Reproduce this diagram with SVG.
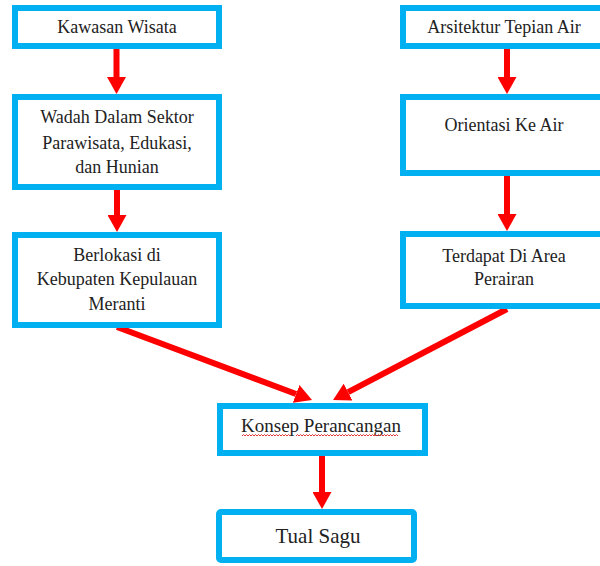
<svg xmlns="http://www.w3.org/2000/svg" width="600" height="566" viewBox="0 0 600 566">
  <style>
    .box { fill: #ffffff; stroke: #00b0f0; stroke-width: 6; }
    .lbl { font-family: 'Liberation Serif', 'DejaVu Serif', serif; font-size: 18px; fill: #222222; text-anchor: middle; }
    .lbl-md { font-size: 19px; }
    .lbl-lg { font-size: 21px; }
    .link { stroke: #ff0000; stroke-width: 6; fill: none; marker-end: url(#head); }
    .squiggle { stroke: #e02020; stroke-width: 0.9; fill: none; }
  </style>
  <defs>
    <marker id="head" viewBox="0 0 17 19" refX="0" refY="9.5" markerWidth="17" markerHeight="19" orient="auto" markerUnits="userSpaceOnUse">
      <path d="M0,0 L17,9.5 L0,19 Z" fill="#ff0000"/>
    </marker>
  </defs>
  <rect width="600" height="566" fill="#ffffff"/>

  <!-- connectors -->
  <g id="connectors">
    <line class="link" x1="116.5" y1="49" x2="116.5" y2="77"/>
    <line class="link" x1="117" y1="190" x2="117" y2="215"/>
    <line class="link" x1="507" y1="49" x2="507" y2="77"/>
    <line class="link" x1="507" y1="176" x2="507" y2="214"/>
    <line class="link" x1="117" y1="327" x2="296.1" y2="394"/>
    <line class="link" x1="507" y1="309" x2="348.1" y2="392.1"/>
    <line class="link" x1="322" y1="456" x2="322" y2="492"/>
  </g>

  <!-- left column -->
  <g id="kawasan-wisata">
    <rect class="box" x="15" y="8" width="204" height="38"/>
    <text class="lbl" x="117" y="33">Kawasan Wisata</text>
  </g>
  <g id="wadah">
    <rect class="box" x="15" y="97" width="204" height="90"/>
    <text class="lbl" x="117" y="123">Wadah Dalam Sektor</text>
    <text class="lbl" x="117" y="149">Parawisata, Edukasi,</text>
    <text class="lbl" x="117" y="173">dan Hunian</text>
  </g>
  <g id="berlokasi">
    <rect class="box" x="15" y="235" width="204" height="90"/>
    <text class="lbl" x="117" y="261">Berlokasi di</text>
    <text class="lbl" x="117" y="285">Kebupaten Kepulauan</text>
    <text class="lbl" x="117" y="310">Meranti</text>
  </g>

  <!-- right column -->
  <g id="arsitektur-tepian-air">
    <rect class="box" x="403" y="8" width="208" height="38"/>
    <text class="lbl" x="504" y="33">Arsitektur Tepian Air</text>
  </g>
  <g id="orientasi">
    <rect class="box" x="403" y="97" width="208" height="76"/>
    <text class="lbl" x="504" y="131">Orientasi Ke Air</text>
  </g>
  <g id="terdapat">
    <rect class="box" x="403" y="234" width="208" height="72"/>
    <text class="lbl" x="504" y="262">Terdapat Di Area</text>
    <text class="lbl" x="504" y="285">Perairan</text>
  </g>

  <!-- bottom -->
  <g id="konsep-perancangan">
    <rect class="box" x="220" y="406" width="205" height="47"/>
    <text class="lbl lbl-md" x="321" y="432">Konsep Perancangan</text>
    <!-- spell-check squiggles under both words -->
    <path class="squiggle" d="M242,436 l1.5,-1.5 l1.5,1.5 l1.5,-1.5 l1.5,1.5 l1.5,-1.5 l1.5,1.5 l1.5,-1.5 l1.5,1.5 l1.5,-1.5 l1.5,1.5 l1.5,-1.5 l1.5,1.5 l1.5,-1.5 l1.5,1.5 l1.5,-1.5 l1.5,1.5 l1.5,-1.5 l1.5,1.5 l1.5,-1.5 l1.5,1.5 l1.5,-1.5 l1.5,1.5 l1.5,-1.5 l1.5,1.5 l1.5,-1.5 l1.5,1.5 l1.5,-1.5 l1.5,1.5 l1.5,-1.5 l1.5,1.5 l1.5,-1.5 l1.5,1.5"/>
    <path class="squiggle" d="M296,436 l1.5,-1.5 l1.5,1.5 l1.5,-1.5 l1.5,1.5 l1.5,-1.5 l1.5,1.5 l1.5,-1.5 l1.5,1.5 l1.5,-1.5 l1.5,1.5 l1.5,-1.5 l1.5,1.5 l1.5,-1.5 l1.5,1.5 l1.5,-1.5 l1.5,1.5 l1.5,-1.5 l1.5,1.5 l1.5,-1.5 l1.5,1.5 l1.5,-1.5 l1.5,1.5 l1.5,-1.5 l1.5,1.5 l1.5,-1.5 l1.5,1.5 l1.5,-1.5 l1.5,1.5 l1.5,-1.5 l1.5,1.5 l1.5,-1.5 l1.5,1.5 l1.5,-1.5 l1.5,1.5 l1.5,-1.5 l1.5,1.5 l1.5,-1.5 l1.5,1.5 l1.5,-1.5 l1.5,1.5 l1.5,-1.5 l1.5,1.5 l1.5,-1.5 l1.5,1.5 l1.5,-1.5 l1.5,1.5 l1.5,-1.5 l1.5,1.5 l1.5,-1.5 l1.5,1.5 l1.5,-1.5 l1.5,1.5 l1.5,-1.5 l1.5,1.5 l1.5,-1.5 l1.5,1.5 l1.5,-1.5 l1.5,1.5 l1.5,-1.5 l1.5,1.5 l1.5,-1.5 l1.5,1.5 l1.5,-1.5 l1.5,1.5 l1.5,-1.5 l1.5,1.5 l1.5,-1.5 l1.5,1.5"/>
  </g>
  <g id="tual-sagu">
    <rect class="box" x="219" y="512" width="195" height="48" rx="2"/>
    <text class="lbl lbl-lg" x="318" y="543">Tual Sagu</text>
  </g>
</svg>
